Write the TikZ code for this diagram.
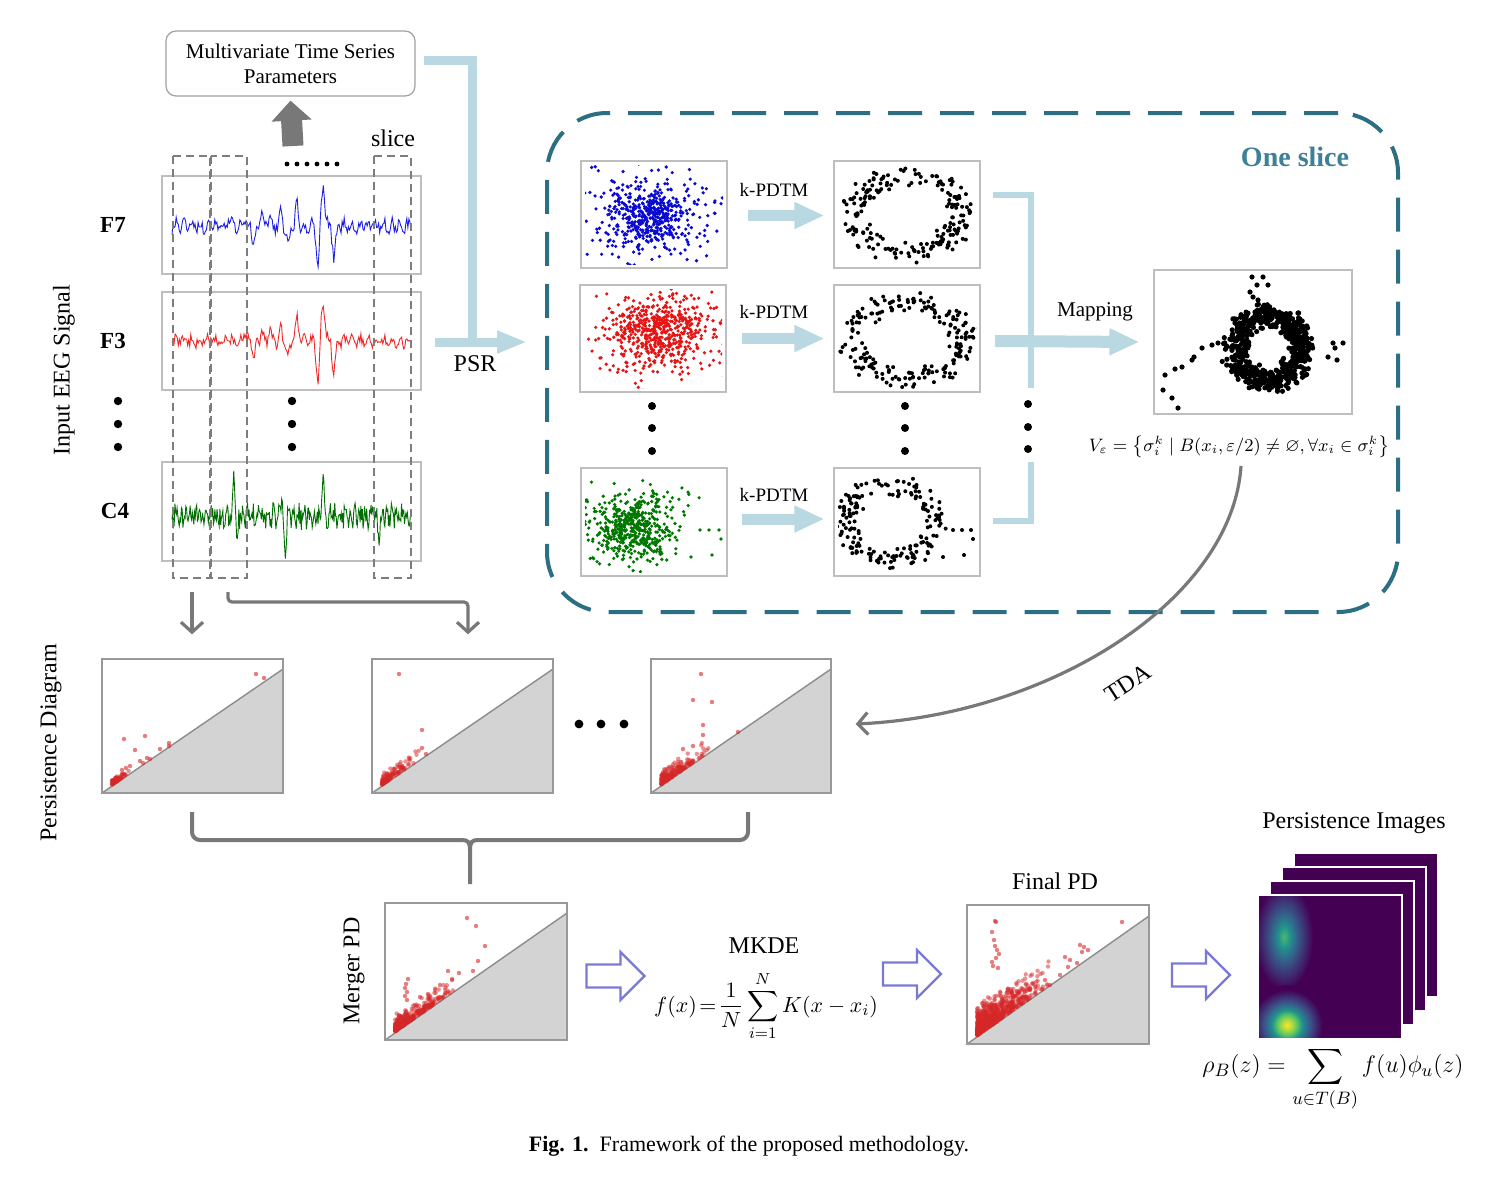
\documentclass[tikz,border=0pt]{standalone}
\usepackage{amsmath,amssymb}
\usepackage{fontspec}
\setmainfont{Liberation Serif}
\usetikzlibrary{arrows.meta,calc}
\definecolor{ltblue}{RGB}{186,216,225}
\definecolor{teal1}{RGB}{44,110,130}
\definecolor{teal2}{RGB}{62,128,152}
\definecolor{boxgray}{RGB}{190,190,190}
\definecolor{wingray}{RGB}{125,125,125}
\definecolor{arrgray}{RGB}{120,120,120}
\definecolor{pdtri}{RGB}{211,211,211}
\definecolor{pdline}{RGB}{140,140,140}
\definecolor{pdred}{RGB}{214,39,40}
\definecolor{hollowc}{RGB}{122,122,214}
\definecolor{sigblue}{RGB}{30,30,230}
\definecolor{sigred}{RGB}{240,40,40}
\definecolor{siggreen}{RGB}{0,110,0}
\definecolor{scblue}{RGB}{10,10,210}
\definecolor{scred}{RGB}{230,20,20}
\definecolor{scgreen}{RGB}{0,120,0}
\definecolor{vA}{HTML}{440154}
\definecolor{vB}{HTML}{3B528B}
\definecolor{vC}{HTML}{21918C}
\definecolor{vD}{HTML}{5EC962}
\definecolor{vE}{HTML}{FDE725}
\colorlet{vED}{vE!55!vD}
\colorlet{vDC}{vD!70!vC}
\colorlet{vBC}{vB!70!vC}
\colorlet{vBA}{vB!60!vA}
\pgfdeclareradialshading{blobY}{\pgfpointorigin}{color(0bp)=(vE); color(3bp)=(vED); color(6bp)=(vD); color(9.5bp)=(vC); color(14.5bp)=(vB); color(22bp)=(vA); color(50bp)=(vA)}
\pgfdeclareradialshading{blobG}{\pgfpointorigin}{color(0bp)=(vDC); color(5bp)=(vC); color(10bp)=(vBC); color(17bp)=(vBA); color(24bp)=(vA); color(50bp)=(vA)}

% Gaussian-like scatter: cx cy sx sy n colour
\newcommand\gscat[6]{\foreach \i in {1,...,#5}{%
  \pgfmathsetmacro\gx{#1+#3*(rand+rand+rand)/3}%
  \pgfmathsetmacro\gy{#2+#4*(rand+rand+rand)/3}%
  \fill[#6] (\gx,\gy) circle[radius=0.9pt];}}
% ring scatter: cx cy rx ry noise n colour radius
\newcommand\rscat[8]{\foreach \i in {1,...,#6}{%
  \pgfmathsetmacro\ang{360*rnd}%
  \pgfmathsetmacro\rr{1+#5*(rand+rand)/2}%
  \pgfmathsetmacro\gx{#1+#3*\rr*cos(\ang)}%
  \pgfmathsetmacro\gy{#2+#4*\rr*sin(\ang)}%
  \fill[#7] (\gx,\gy) circle[radius=#8];}}
% list of single points
\newcommand\pts[3]{\foreach \a/\b in {#1}{\fill[#2] (\a,\b) circle[radius=#3];}}
% persistence diagram content: x0 ybottom x1 ydiag n len spread
\newcommand\pdcontent[7]{%
  \fill[pdtri] (#1,#2) -- (#3,#4) -- (#3,#2) -- cycle;
  \draw[pdline, line width=0.7pt] (#1,#2) -- (#3,#4);
  \pgfmathsetmacro\pdslope{(#2-#4)/(#3-#1)}%
  \foreach \i in {1,...,#5}{%
    \pgfmathsetmacro\pdt{#6*rnd*rnd}%
    \pgfmathsetmacro\pdd{#7*rnd*rnd+1.5}%
    \pgfmathsetmacro\gx{#1+10+\pdt}%
    \pgfmathsetmacro\gy{#2-(10+\pdt)*\pdslope-\pdd}%
    \fill[pdred, fill opacity=0.5] (\gx,\gy) circle[radius=1.1pt];}}
\newcommand\spk[3]{(#2)*max(0,1-abs(\t-#1)/#3)}

\begin{document}
\begin{tikzpicture}[x=0.5pt,y=-0.5pt,
  lbl/.style={inner sep=0pt, font=\fontsize{12}{14}\selectfont},
  sbox/.style={draw=boxgray, line width=0.6pt, inner sep=0pt},
  pdbox/.style={draw=boxgray!80!black, line width=0.7pt, inner sep=0pt, minimum width=90.5pt, minimum height=67pt},
  win/.style={draw=wingray, line width=1pt, dash pattern=on 4pt off 2.5pt},
  bluearrow/.style={draw=ltblue, line width=5.5pt, -{Triangle[width=12.5pt,length=15pt]}},
  grayarrow/.style={draw=arrgray, line width=1.6pt, -{Straight Barb[length=5pt,width=11pt]}},
  hollow/.pic={\draw[hollowc, line width=1.1pt, fill=white] (-29,-11.5) -- (5,-11.5) -- (5,-24) -- (29,0) -- (5,24) -- (5,11.5) -- (-29,11.5) -- cycle;},
]
\useasboundingbox (0,0) rectangle (1486,1180);
\fill[white] (0,0) rectangle (1486,1180);
\pgfmathsetseed{2024}

%================ top box and arrows
\node[draw=boxgray!85!black, rounded corners=5pt, line width=0.6pt, minimum width=124.5pt, minimum height=32.5pt, align=center, inner sep=0pt, font=\fontsize{10.5}{12.5}\selectfont] (mts) at (290.5,63.5) {Multivariate Time Series\\Parameters};
\coordinate (upfoot) at (293,146);
\draw[arrgray, line width=10.5pt, -{Triangle[width=19.5pt,length=10pt]}] (upfoot) -- ([yshift=-2pt]mts.south);
\coordinate (mtsout) at (424,60);
\coordinate (psrbend) at (472,343);
\coordinate (psrstart) at (435,342);
\coordinate (psrend) at (527,342);
\draw[ltblue, line width=4.5pt] (mtsout) -| (psrbend);
\draw[ltblue, line width=4.5pt, -{Triangle[width=10.5pt,length=15pt]}] (psrstart) -- (psrend);
\node[lbl] (psr) at (475,364) {PSR};

%================ signals
\node[sbox, minimum width=129.5pt, minimum height=49pt] (f7box) at (291.5,225) {};
\node[sbox, minimum width=129.5pt, minimum height=49pt] (f3box) at (291.5,341) {};
\node[sbox, minimum width=129.5pt, minimum height=49.5pt] (c4box) at (291.5,511.5) {};
\draw[sigblue, line width=0.45pt] plot[samples=230, domain=172:411, variable=\t] (\t,{226+5.5*rand+4*sin(45*(\t-290))+\spk{323}{-44}{4}+\spk{318}{40}{3.5}+\spk{334}{33}{3.5}+\spk{297}{-25}{3}+\spk{288}{22}{3}+\spk{254}{20}{3}+\spk{270}{-14}{3}+\spk{281}{-14}{3}+\spk{262}{-12}{3}+\spk{244}{-10}{3}+\spk{228}{-8}{3}});
\draw[sigred, line width=0.45pt] plot[samples=230, domain=172:411, variable=\t] (\t,{341+5*rand+3.5*sin(45*(\t-290))+\spk{323}{-42}{4}+\spk{318}{40}{3.5}+\spk{334}{36}{3.5}+\spk{297}{-24}{3}+\spk{288}{20}{3}+\spk{254}{20}{3}+\spk{270}{-14}{3}+\spk{281}{-14}{3}+\spk{262}{-12}{3}+\spk{244}{-9}{3}});
\draw[siggreen, line width=0.45pt] plot[samples=330, domain=172:411, variable=\t] (\t,{516+10*rand+4*sin(70*(\t-290))+\spk{234}{-44}{2.5}+\spk{237}{24}{2}+\spk{323}{-40}{2.5}+\spk{285}{38}{2.5}+\spk{379}{26}{2.5}+\spk{282}{-22}{2.5}});
\node[lbl, font=\fontsize{11.5}{13}\selectfont\bfseries] (lf7) at (113,225) {F7};
\node[lbl, font=\fontsize{11.5}{13}\selectfont\bfseries] (lf3) at (113,341) {F3};
\node[lbl, font=\fontsize{11.5}{13}\selectfont\bfseries] (lc4) at (115,511) {C4};
\foreach \yy in {401,424,447}{\fill (118,\yy) circle[radius=2.1pt]; \fill (292,\yy) circle[radius=2.1pt];}
\node[lbl, rotate=90] (input) at (64,370) {Input EEG Signal};
% slice windows
\draw[win] (173,156) rectangle (210,578);
\draw[win] (211,156) rectangle (247,578);
\draw[win] (374,156) rectangle (411,578);
\foreach \xx in {287,297,307,317,327,337}{\fill (\xx,164) circle[radius=1.2pt];}
\node[lbl] (slice) at (393,138) {slice};

%================ one slice frame
\node[draw=teal1, line width=2pt, dash pattern=on 17pt off 9pt, rounded corners=30pt, minimum width=425.5pt, minimum height=249.5pt, inner sep=0pt] (oneslice) at (972.5,362.5) {};
\node[lbl, font=\fontsize{14}{16}\selectfont\bfseries, text=teal2] (oslbl) at (1295,157) {One slice};

% scatter plots
\begin{scope}
\clip (585,165) rectangle (723,264);
\gscat{650}{216}{62}{45}{380}{scblue}
\gscat{652}{214}{105}{80}{170}{scblue}
\end{scope}
\begin{scope}
\clip (584,289) rectangle (722,388);
\gscat{660}{330}{70}{45}{400}{scred}
\gscat{655}{336}{105}{80}{200}{scred}
\end{scope}
\begin{scope}
\clip (585,472) rectangle (723,572);
\gscat{632}{528}{55}{45}{380}{scgreen}
\gscat{635}{526}{85}{75}{150}{scgreen}
\end{scope}
\pts{700/530,709/530,719/530,721/539,712/555,691/557}{scgreen}{0.9pt}
\begin{scope}
\clip (838,165) rectangle (976,264);
\rscat{907}{214}{56}{38}{0.32}{200}{black}{1pt}
\end{scope}
\begin{scope}
\clip (838,289) rectangle (976,388);
\rscat{907}{339}{56}{38}{0.32}{200}{black}{1pt}
\end{scope}
\begin{scope}
\clip (838,472) rectangle (976,572);
\rscat{890}{522}{44}{38}{0.32}{180}{black}{1pt}
\end{scope}
\pts{953/530,962/530,971/530,973/539,964/555,943/557}{black}{1pt}
\node[sbox, minimum width=73pt, minimum height=53.5pt] (sc1) at (654,214.5) {};
\node[sbox, minimum width=73pt, minimum height=53.5pt] (sc2) at (653,338.5) {};
\node[sbox, minimum width=73pt, minimum height=54pt] (sc3) at (654,522) {};
\node[sbox, minimum width=73pt, minimum height=53.5pt] (bk1) at (907,214.5) {};
\node[sbox, minimum width=73pt, minimum height=53.5pt] (bk2) at (907,338.5) {};
\node[sbox, minimum width=73pt, minimum height=54pt] (bk3) at (907,522) {};
\draw[bluearrow] ([xshift=10pt,yshift=-0.5pt]sc1.east) -- ([xshift=-4.5pt,yshift=-0.5pt]bk1.west);
\draw[bluearrow] ([xshift=7.5pt]sc2.east) -- ([xshift=-4.5pt]bk2.west);
\draw[bluearrow] ([xshift=7pt,yshift=1.5pt]sc3.east) -- ([xshift=-4.5pt,yshift=1.5pt]bk3.west);
\node[lbl, font=\fontsize{9.5}{11}\selectfont] (kp1) at (774,190) {k-PDTM};
\node[lbl, font=\fontsize{9.5}{11}\selectfont] (kp2) at (774,312) {k-PDTM};
\node[lbl, font=\fontsize{9.5}{11}\selectfont] (kp3) at (774,495) {k-PDTM};
\foreach \yy in {406,428,451}{\fill (652,\yy) circle[radius=2pt]; \fill (905,\yy) circle[radius=2pt];}
\foreach \yy in {404,427,449}{\fill (1028,\yy) circle[radius=2pt];}
% bracket and mapping
\coordinate (brtop) at (993,195);
\coordinate (brmid) at (1031,388);
\coordinate (brlow) at (1031,462);
\coordinate (brbot) at (993,521);
\draw[ltblue, line width=2.6pt] (brtop) -| (brmid);
\draw[ltblue, line width=2.6pt] (brlow) |- (brbot);
\rscat{1268}{348}{33}{33}{0.45}{600}{black}{1.3pt}
\pts{1178/408,1172/398,1163/390,1165/375,1175/369,1182/367,1192/360,1194/357,1202/348,1212/345,1218/343,1252/277,1257/285,1263/277,1268/285,1250/292,1253/297,1258/300,1333/343,1343/343,1335/348,1337/360,1328/357}{black}{1.3pt}
\node[sbox, minimum width=99pt, minimum height=72pt] (big) at (1253,342) {};
\draw[bluearrow, line width=6pt] (995,341) -- ([xshift=-7pt]big.west);
\node[lbl, font=\fontsize{10.5}{12}\selectfont] (mapping) at (1095,312) {Mapping};
\node[lbl, font=\fontsize{9.2}{11}\selectfont] (vform) at (1239,447) {$V_{\varepsilon}=\left\{\sigma_i^k \mid B(x_i,\varepsilon/2)\neq\varnothing,\forall x_i\in\sigma_i^k\right\}$};

%================ persistence diagrams
\pdcontent{102}{793}{283}{669}{80}{20}{6}
\pts{256/674,264/678,124/739,145/736,135/750,160/749,169/743,169/746,140/761,147/758,150/759,143/763,122/770,126/768,130/766}{pdred, fill opacity=0.6}{1.1pt}
\node[pdbox] (pd1) at (192.5,726) {};
\pdcontent{372}{793}{553}{669}{120}{38}{12}
\pts{399/674,422/730,422/748,426/754}{pdred, fill opacity=0.6}{1.1pt}
\node[pdbox] (pd2) at (462.5,726) {};
\pdcontent{651}{793}{831}{669}{200}{52}{16}
\pts{701/674,693/700,712/702,703/725,703/735,738/732,683/749,693/746}{pdred, fill opacity=0.6}{1.1pt}
\node[pdbox, minimum width=90pt] (pd3) at (741,726) {};
\foreach \xx in {579,601,624}{\fill (\xx,724) circle[radius=2.2pt];}
\node[lbl, rotate=90] (pdlbl) at (51,743) {Persistence Diagram};
\coordinate (a1s) at (192,592);
\coordinate (a2s) at (228,592);
\draw[grayarrow] (a1s) -- ([yshift=12pt]pd1.north -| a1s);
\draw[grayarrow, rounded corners=2pt] (a2s) -- (228,602) -- (468,602) -- ([yshift=12pt]pd2.north -| 468,0);
% curved TDA arrow
\coordinate (tdas) at (1241,466);
\draw[grayarrow] (tdas) .. controls (1232,600) and (1050,715) .. ([xshift=12pt]pd3.east |- 0,724);
\node[lbl, rotate=33] (tda) at (1128,683) {TDA};
% brace
\draw[arrgray, line width=2pt, rounded corners=4pt] (192,812) -- (192,840) -- (462,840);
\draw[arrgray, line width=2pt, rounded corners=4pt] (748,812) -- (748,840) -- (478,840);
\draw[arrgray, line width=2pt] (462,840) .. controls (468,840) and (470,842) .. (470,850) -- (470,884);
\draw[arrgray, line width=2pt] (478,840) .. controls (472,840) and (470,842) .. (470,850);

%================ bottom row
\node[lbl, rotate=90] (mlbl) at (354,971) {Merger PD};
\pdcontent{385}{1040}{567}{913}{350}{62}{18}
\pts{467/918,476/926,485/946,478/961,473/971,448/971,459/973,408/979,406/984,405/988,407/992,405/996,407/1000,420/997,428/994,440/985,452/980}{pdred, fill opacity=0.6}{1.1pt}
\node[pdbox, minimum width=91pt, minimum height=68.5pt] (mpd) at (476,971.5) {};
\pic at (615.5,976) {hollow};
\node[lbl] (mkde) at (764,946) {MKDE};
\node[lbl, font=\fontsize{10.8}{13}\selectfont] (mform) at (766,1006) {$f(x)\!=\!\dfrac{1}{N}\displaystyle\sum_{i=1}^{N}K(x-x_i)$};
\pic at (912,974) {hollow};
\node[lbl] (fpdl) at (1055,881) {Final PD};
\pdcontent{967}{1044}{1149}{916}{700}{75}{32}
\pts{995/921,996/922,1122/922,992/932,994/940,995/946,997/950,999/954,996/958,992/962,993/966,998/968,1080/945,1084/947,1088/950,1082/952,1065/957,1070/960,1077/963,1068/967,1060/975,1045/980,1050/985,1030/990}{pdred, fill opacity=0.6}{1.1pt}
\node[pdbox, minimum width=91pt, minimum height=69.5pt] (fpd) at (1058,974.5) {};
\pic at (1201,975) {hollow};
% persistence images
\node[lbl] (pilbl) at (1354,823) {Persistence Images};
\fill[vA, draw=white, line width=1pt] (1294,853) rectangle (1438,997);
\fill[vA, draw=white, line width=1pt] (1282,867) rectangle (1426,1011);
\fill[vA, draw=white, line width=1pt] (1270,881) rectangle (1414,1025);
\fill[vA, draw=white, line width=1pt] (1258,895) rectangle (1402,1039);
\begin{scope}
\clip (1258,895) rectangle (1402,1039);
\shade[shading=blobG] (1284,937) ellipse [x radius=30, y radius=55];
\shade[shading=blobY] (1287,1025) ellipse [x radius=40, y radius=40];
\end{scope}
\draw[white, line width=1pt] (1258,895) rectangle (1402,1039);
\node[lbl, font=\fontsize{12.5}{14}\selectfont] (rform) at (1333,1079) {$\rho_B(z)=\displaystyle\sum_{u\in T(B)} f(u)\phi_u(z)$};

%================ caption
\node[lbl, font=\fontsize{11}{13}\selectfont] (cap) at (749,1146) {\textbf{Fig. 1.}\ \ Framework of the proposed methodology.};
\end{tikzpicture}
\end{document}
